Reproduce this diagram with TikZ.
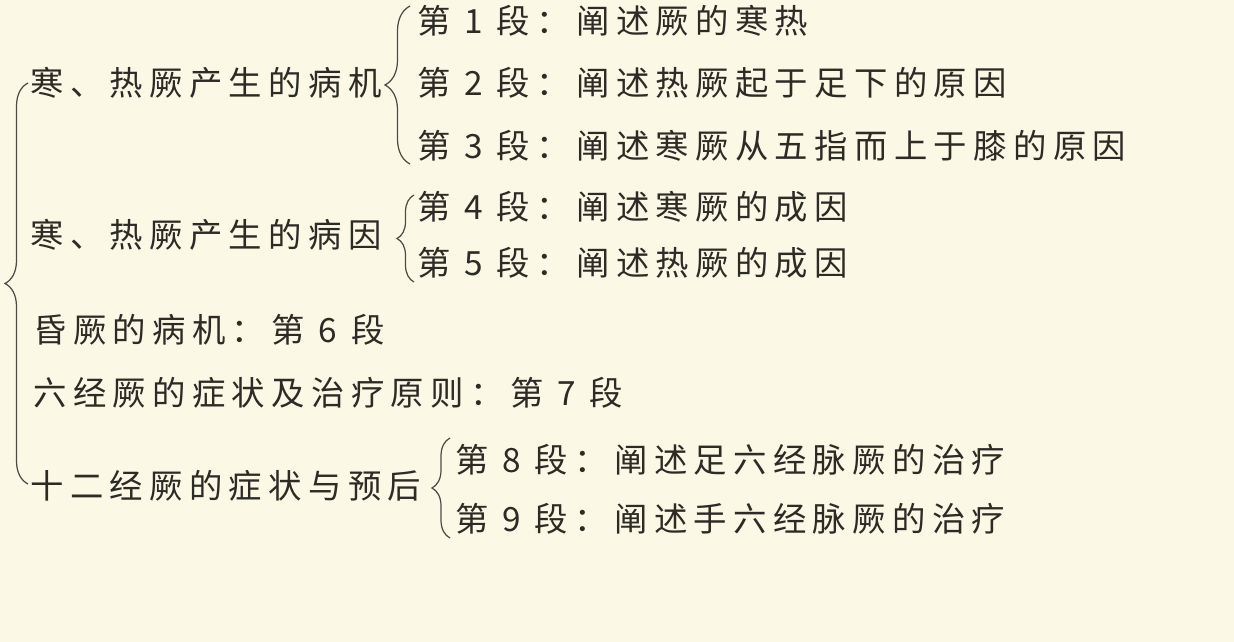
\documentclass[tikz,border=0pt]{standalone}
\usepackage{fontspec}
\setmainfont{Noto Sans CJK SC}[LetterSpace=19]
\usetikzlibrary{decorations.pathreplacing}
\definecolor{paper}{RGB}{251,248,230}
\definecolor{ink}{RGB}{45,43,38}

\begin{document}
\begin{tikzpicture}[x=0.02cm,y=-0.02cm,
  txt/.style={anchor=west,inner sep=0pt,text=ink,font=\fontsize{19}{21}\selectfont},
  kuo/.style={decorate,decoration={brace,amplitude=#1},draw=ink!85,line width=0.7pt}]

\fill[paper] (0,0) rectangle (1234,642);
\useasboundingbox (0,0) rectangle (1234,642);

\node[txt] (bingji) at (30,83) {寒、热厥产生的病机};
\node[txt] (d1) at (417,21) {第 1 段：阐述厥的寒热};
\node[txt] (d2) at (417,83) {第 2 段：阐述热厥起于足下的原因};
\node[txt] (d3) at (417,146) {第 3 段：阐述寒厥从五指而上于膝的原因};

\node[txt] (bingyin) at (30,235) {寒、热厥产生的病因};
\node[txt] (d4) at (417,207) {第 4 段：阐述寒厥的成因};
\node[txt] (d5) at (417,263) {第 5 段：阐述热厥的成因};

\node[txt] (hunjue) at (33,330) {昏厥的病机：第 6 段};
\node[txt] (liujing) at (33,393) {六经厥的症状及治疗原则：第 7 段};

\node[txt] (shierjing) at (30,486) {十二经厥的症状与预后};
\node[txt] (d8) at (455,460) {第 8 段：阐述足六经脉厥的治疗};
\node[txt] (d9) at (455,519) {第 9 段：阐述手六经脉厥的治疗};

\coordinate (alltop) at (28,83);
\coordinate (allbot) at (28,484);
\coordinate (jitop) at (410,6);
\coordinate (jibot) at (410,164);
\coordinate (yintop) at (414,195);
\coordinate (yinbot) at (414,282);
\coordinate (shiertop) at (450,438);
\coordinate (shierbot) at (450,538);

\foreach \from/\to/\amp in {allbot/alltop/0.46cm, jibot/jitop/0.5cm, yinbot/yintop/0.34cm, shierbot/shiertop/0.36cm}
	\draw[kuo=\amp] (\from) -- (\to);

\end{tikzpicture}
\end{document}
